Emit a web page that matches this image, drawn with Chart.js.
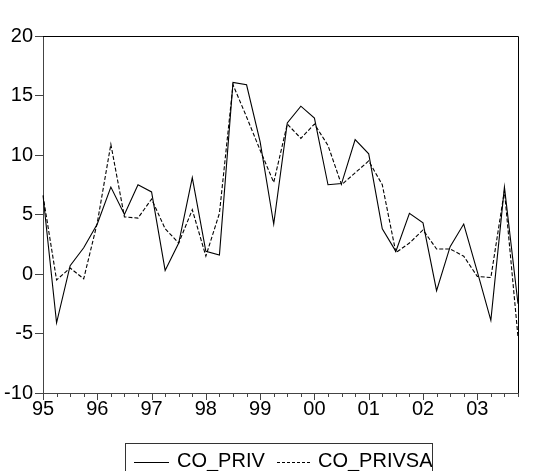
<!DOCTYPE html>
<html>
<head>
<meta charset="utf-8">
<script src="https://cdn.jsdelivr.net/npm/chart.js@4.4.1/dist/chart.umd.min.js"></script>
<style>
    body { margin: 0; background: #fff; }
    #wrap { position: relative; width: 534px; height: 471px; overflow: hidden; font-family: "Liberation Sans", Arial, sans-serif; }
    #chart { position: absolute; left: 0; top: 0; }
    .lg-text { position: absolute; top: 450px; font-size: 20px; line-height: 20px; color: #000; white-space: nowrap; }
    .lg-line { position: absolute; top: 462px; height: 1px; }
    #lg-box { position: absolute; left: 125px; top: 443px; width: 306px; height: 60px; border: 1px solid #333; }
</style>
</head>
<body>
<div id="wrap">
    <canvas id="chart" width="534" height="471"></canvas>
    <div class="lg-line" style="left:134px;width:35px;background:#000;"></div>
    <div class="lg-text" style="left:177px;">CO_PRIV</div>
    <div class="lg-line" style="left:277px;width:33px;background:repeating-linear-gradient(90deg,#000 0 3px,transparent 3px 5px);"></div>
    <div class="lg-text" style="left:318px;">CO_PRIVSA</div>
    <div id="lg-box"></div>
</div>
<script>
// quarterly data 1995Q1 - 2003Q4
const yearTicks = ['95', '96', '97', '98', '99', '00', '01', '02', '03'];
const quarters = ['Q1', 'Q2', 'Q3', 'Q4'];
const yTicks = [-10, -5, 0, 5, 10, 15, 20];

const coPriv = [6.6, -4.1, 0.7, 2.2, 4.2, 7.3, 5.0, 7.5, 6.9, 0.3, 2.6, 8.1,
    1.9, 1.6, 16.1, 15.9, 11.1, 4.2, 12.7, 14.1, 13.1, 7.5, 7.6, 11.3,
    10.1, 3.8, 1.9, 5.1, 4.3, -1.4, 2.3, 4.2, 0.2, -3.9, 7.3, -2.5];
const coPrivSa = [6.6, -0.5, 0.5, -0.4, 4.3, 10.9, 4.8, 4.7, 6.3, 3.8, 2.6, 5.4,
    1.5, 5.1, 15.9, 13.2, 10.4, 7.7, 12.6, 11.4, 12.6, 10.8, 7.5, 8.5,
    9.5, 7.5, 1.8, 2.6, 3.7, 2.1, 2.1, 1.5, -0.2, -0.3, 7.0, -5.3];

const periods = yearTicks.flatMap(y => quarters.map(q => y + q));

Chart.defaults.font.family = '"Liberation Sans", Arial, sans-serif';
Chart.defaults.font.size = 20;
Chart.defaults.color = '#000';

// top/right frame + quarter ticks (year ticks longer)
const frame = {
    id: 'frame',
    afterDraw(chart) {
        const { ctx, chartArea: a, scales: { x } } = chart;
        ctx.save();
        ctx.strokeStyle = '#000';
        ctx.lineWidth = 1;
        ctx.beginPath();
        ctx.moveTo(a.left, a.top + 0.5);
        ctx.lineTo(Math.round(a.right) + 0.5, a.top + 0.5);
        ctx.lineTo(Math.round(a.right) + 0.5, a.bottom);
        ctx.stroke();
        ctx.strokeStyle = '#444';
        ctx.beginPath();
        periods.forEach((p, i) => {
            const px = Math.round(x.getPixelForValue(i)) + 0.5;
            ctx.moveTo(px, a.bottom);
            ctx.lineTo(px, a.bottom + (i % 4 === 0 ? 7 : 4));
        });
        ctx.stroke();
        ctx.restore();
    }
};

new Chart(document.getElementById('chart'), {
    type: 'line',
    data: {
        labels: periods,
        datasets: [{
            label: 'CO_PRIV',
            data: coPriv,
            borderColor: '#000',
            borderWidth: 1.1,
            pointRadius: 0,
            tension: 0
        }, {
            label: 'CO_PRIVSA',
            data: coPrivSa,
            borderColor: '#000',
            borderWidth: 1.1,
            borderDash: [4, 2],
            pointRadius: 0,
            tension: 0
        }]
    },
    options: {
        responsive: false,
        animation: false,
        devicePixelRatio: 1,
        layout: { padding: { top: 36, right: 16, left: 0, bottom: 0 } },
        plugins: { legend: { display: false }, tooltip: { enabled: false } },
        scales: {
            x: {
                type: 'category',
                offset: false,
                afterFit: s => { s.height = 78; },
                grid: { drawOnChartArea: false, drawTicks: true, tickLength: 7, color: 'transparent' },
                border: { color: '#444', width: 1 },
                ticks: {
                    autoSkip: false,
                    maxRotation: 0,
                    padding: -3,
                    callback: (v, i) => i % 4 === 0 ? yearTicks[i / 4] : ''
                }
            },
            y: {
                min: -10,
                max: 20,
                afterFit: s => { s.width = 43; },
                afterBuildTicks: s => { s.ticks = yTicks.map(v => ({ value: v })); },
                grid: { drawOnChartArea: false, tickLength: 8, color: '#444' },
                border: { color: '#444', width: 1 },
                ticks: { padding: 2 }
            }
        }
    },
    plugins: [frame]
});
</script>
</body>
</html>
